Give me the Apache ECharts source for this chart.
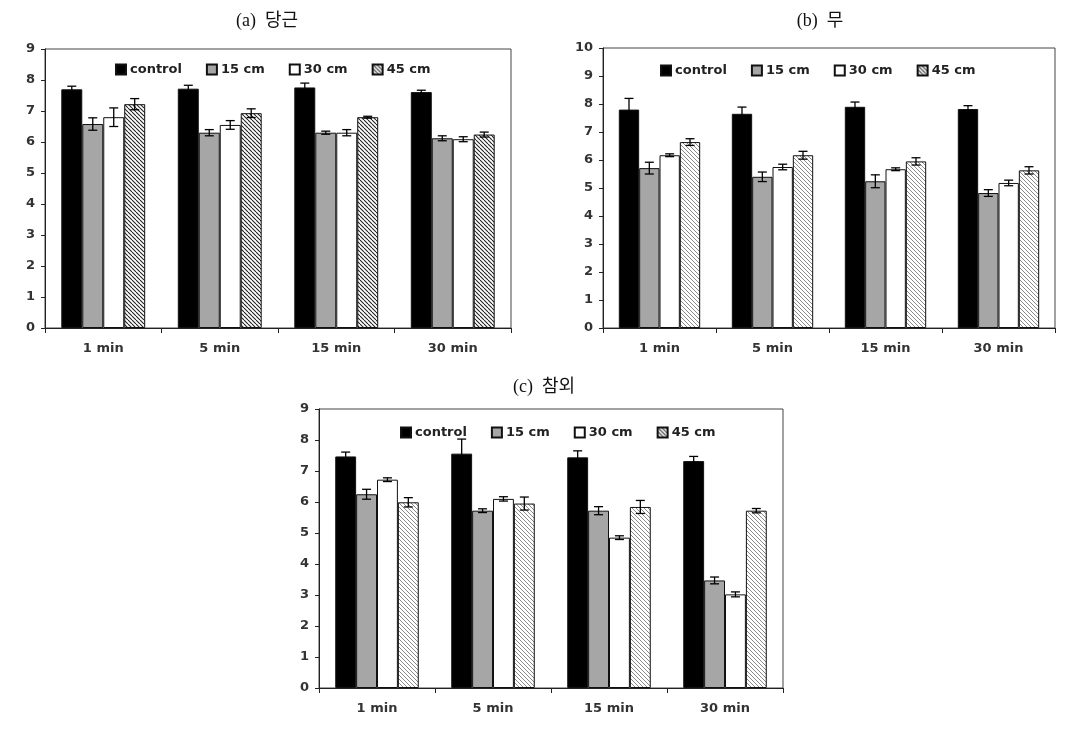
<!DOCTYPE html>
<html>
<head>
<meta charset="utf-8">
<script src="https://cdn.jsdelivr.net/npm/echarts@6/dist/echarts.min.js"></script>
<style>
html,body{margin:0;padding:0;background:#fff;}
#chart{width:1073px;height:735px;}
</style>
</head>
<body>
<div id="chart"></div>
<script>
// ---------- data ----------
const categories = ['1 min', '5 min', '15 min', '30 min'];
const seriesNames = ['control', '15 cm', '30 cm', '45 cm'];
const panelTitles = ['(a)  당근', '(b)  무', '(c)  참외'];

// (a) 당근
const a_control = [7.70, 7.72, 7.76, 7.61];
const a_control_err = [0.10, 0.11, 0.14, 0.06];
const a_15 = [6.58, 6.30, 6.30, 6.12];
const a_15_err = [0.20, 0.10, 0.05, 0.08];
const a_30 = [6.80, 6.55, 6.30, 6.09];
const a_30_err = [0.30, 0.14, 0.10, 0.08];
const a_45 = [7.22, 6.93, 6.80, 6.24];
const a_45_err = [0.18, 0.14, 0.03, 0.08];

// (b) 무
const b_control = [7.80, 7.65, 7.90, 7.82];
const b_control_err = [0.40, 0.24, 0.17, 0.12];
const b_15 = [5.71, 5.40, 5.24, 4.82];
const b_15_err = [0.21, 0.17, 0.23, 0.12];
const b_30 = [6.17, 5.75, 5.67, 5.18];
const b_30_err = [0.05, 0.10, 0.05, 0.10];
const b_45 = [6.64, 6.17, 5.95, 5.63];
const b_45_err = [0.12, 0.14, 0.13, 0.13];

// (c) 참외
const c_control = [7.47, 7.56, 7.44, 7.32];
const c_control_err = [0.14, 0.47, 0.21, 0.15];
const c_15 = [6.25, 5.72, 5.72, 3.47];
const c_15_err = [0.16, 0.06, 0.13, 0.11];
const c_30 = [6.72, 6.10, 4.85, 3.02];
const c_30_err = [0.06, 0.07, 0.06, 0.08];
const c_45 = [5.99, 5.95, 5.84, 5.72];
const c_45_err = [0.15, 0.21, 0.21, 0.07];

const yMax = [9, 10, 9];

// ---------- styling helpers ----------
function hatch(color, lw, s) {
  const cv = document.createElement('canvas');
  cv.width = s; cv.height = s;
  const ctx = cv.getContext('2d');
  ctx.fillStyle = '#fff';
  ctx.fillRect(0, 0, s, s);
  ctx.strokeStyle = color;
  ctx.lineWidth = lw;
  for (let k = -1; k <= 1; k++) {
    ctx.beginPath();
    ctx.moveTo(k * s, 0);
    ctx.lineTo(k * s + s, s);
    ctx.stroke();
  }
  return { image: cv, repeat: 'repeat' };
}
const hatchDark = hatch('#222', 1.1, 4);
const hatchLight = hatch('#8a8a8a', 1, 4);

const panels = [
  { vals: [a_control, a_15, a_30, a_45], errs: [a_control_err, a_15_err, a_30_err, a_45_err], hatch: hatchDark },
  { vals: [b_control, b_15, b_30, b_45], errs: [b_control_err, b_15_err, b_30_err, b_45_err], hatch: hatchLight },
  { vals: [c_control, c_15, c_30, c_45], errs: [c_control_err, c_15_err, c_30_err, c_45_err], hatch: hatchLight }
];

const grids = [
  { left: 45, top: 49, width: 466, height: 279 },
  { left: 603, top: 48, width: 452, height: 280 },
  { left: 319, top: 409, width: 464, height: 279 }
];
const legendPos = [
  { left: 115, top: 63 },
  { left: 660, top: 64 },
  { left: 400, top: 426 }
];
const titlePos = [
  { left: 262, top: 7 },
  { left: 815, top: 7 },
  { left: 539, top: 373 }
];

const GAP = 0.28;
const font = "'DejaVu Sans', Verdana, sans-serif";

const option = {
  animation: false,
  backgroundColor: '#fff',
  title: panelTitles.map((t, i) => ({
    text: t,
    left: titlePos[i].left,
    top: titlePos[i].top,
    textAlign: 'center',
    textStyle: { fontFamily: "'Liberation Serif', 'Noto Sans CJK KR', serif", fontSize: 18, fontWeight: 'normal', color: '#111' }
  })),
  legend: panels.map((p, i) => ({
    data: seriesNames.map(n => ({ name: n, icon: 'rect' })),
    left: legendPos[i].left,
    top: legendPos[i].top,
    padding: 0,
    itemGap: 24,
    itemWidth: 10,
    itemHeight: 10,
    selectedMode: false,
    textStyle: { fontFamily: font, fontSize: 13, fontWeight: 'bold', color: '#222', padding: [0, 0, 0, -1] }
  })),
  grid: grids.map(g => Object.assign({ show: true, borderColor: '#444', borderWidth: 1, backgroundColor: 'transparent' }, g)),
  xAxis: grids.map((g, i) => ({
    type: 'category',
    gridIndex: i,
    data: categories,
    axisLine: { lineStyle: { color: '#222', width: 1 } },
    axisTick: { show: true, length: 5, lineStyle: { color: '#222' } },
    axisLabel: { fontFamily: font, fontSize: 13, fontWeight: 'bold', color: '#333', margin: 14 },
    splitLine: { show: false }
  })),
  yAxis: grids.map((g, i) => ({
    type: 'value',
    gridIndex: i,
    min: 0,
    max: yMax[i],
    interval: 1,
    axisLine: { show: true, lineStyle: { color: '#222', width: 1 } },
    axisTick: { show: true, length: 4, lineStyle: { color: '#222' } },
    axisLabel: { fontFamily: font, fontSize: 13, fontWeight: 'bold', color: '#333', margin: 10 },
    splitLine: { show: false }
  })),
  series: []
};

const fills = ['#000', '#a6a6a6', '#fff', null];

panels.forEach((p, pi) => {
  p.vals.forEach((vals, si) => {
    option.series.push({
      type: 'bar',
      name: seriesNames[si],
      xAxisIndex: pi,
      yAxisIndex: pi,
      data: vals,
      barGap: '0%',
      barCategoryGap: (GAP * 100) + '%',
      itemStyle: {
        color: si === 3 ? p.hatch : fills[si],
        borderColor: '#111',
        borderWidth: 1
      },
      z: 2
    });
  });
  const errData = [];
  p.vals.forEach((vals, si) => {
    vals.forEach((v, ci) => errData.push([ci, v, p.errs[si][ci], si]));
  });
  option.series.push({
    type: 'custom',
    name: 'err' + pi,
    xAxisIndex: pi,
    yAxisIndex: pi,
    data: errData,
    encode: { x: 0, y: 1 },
    z: 5,
    silent: true,
    renderItem: function (params, api) {
      const ci = api.value(0), v = api.value(1), e = api.value(2), si = api.value(3);
      const w = api.size([1, 0])[0];
      const bw = w * (1 - GAP) / 4;
      const cx = api.coord([ci, v])[0] - w * (1 - GAP) / 2 + (si + 0.5) * bw;
      const yt = api.coord([ci, v + e])[1];
      const yb = api.coord([ci, v - e])[1];
      const cap = 4.5;
      const st = { stroke: '#000', lineWidth: 1.3 };
      return {
        type: 'group',
        children: [
          { type: 'line', shape: { x1: cx, y1: yt, x2: cx, y2: yb }, style: st },
          { type: 'line', shape: { x1: cx - cap, y1: yt, x2: cx + cap, y2: yt }, style: st },
          { type: 'line', shape: { x1: cx - cap, y1: yb, x2: cx + cap, y2: yb }, style: st }
        ]
      };
    }
  });
});

const chart = echarts.init(document.getElementById('chart'), null, { renderer: 'canvas' });
chart.setOption(option);
</script>
</body>
</html>
